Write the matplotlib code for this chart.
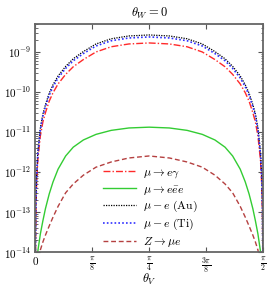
import numpy as np
import matplotlib
matplotlib.use("Agg")
import matplotlib.pyplot as plt
from matplotlib.ticker import FixedLocator, LogLocator, NullFormatter

plt.rcParams["mathtext.fontset"] = "cm"
plt.rcParams["font.family"] = "serif"

# angle grid (degrees), values are log10 of the rates
theta_deg = [0.05, 0.2, 0.5, 1, 2, 3, 4, 5.5, 7, 9, 12, 15, 19, 24, 30, 37, 45,
             53, 60, 66, 71, 75, 78, 81, 83, 84.5, 86, 87, 88, 89, 89.5, 89.8, 89.95]

log_mu_egamma = [-14.3, -13.1, -12.3, -11.7, -11.1, -10.75, -10.52, -10.23, -10.02, -9.8,
                 -9.56, -9.37, -9.19, -9.0, -8.87, -8.8, -8.775,
                 -8.8, -8.87, -9.0, -9.19, -9.37, -9.56, -9.8, -10.02, -10.23, -10.52,
                 -10.75, -11.1, -11.7, -12.3, -13.1, -14.3]
log_mu_eee = [-16.5, -15.6, -14.55, -13.98, -13.55, -13.22, -12.92, -12.55, -12.25, -11.93,
              -11.6, -11.38, -11.2, -11.06, -10.96, -10.9, -10.88,
              -10.9, -10.96, -11.06, -11.2, -11.38, -11.6, -11.93, -12.25, -12.55, -12.92,
              -13.22, -13.55, -13.98, -14.55, -15.6, -16.5]
log_mu_e_au = [-14.1, -12.9, -12.1, -11.5, -10.9, -10.55, -10.32, -10.03, -9.82, -9.6,
               -9.36, -9.17, -8.99, -8.8, -8.67, -8.6, -8.575,
               -8.6, -8.67, -8.8, -8.99, -9.17, -9.36, -9.6, -9.82, -10.03, -10.32,
               -10.55, -10.9, -11.5, -12.1, -12.9, -14.1]
log_mu_e_ti = [-14.15, -12.95, -12.15, -11.55, -10.95, -10.6, -10.37, -10.08, -9.87, -9.65,
               -9.41, -9.22, -9.04, -8.85, -8.72, -8.65, -8.625,
               -8.65, -8.72, -8.85, -9.04, -9.22, -9.41, -9.65, -9.87, -10.08, -10.37,
               -10.6, -10.95, -11.55, -12.15, -12.95, -14.15]
log_z_mue = [-16.0, -15.3, -14.75, -14.3, -13.95, -13.75, -13.58, -13.35, -13.13, -12.86,
             -12.52, -12.3, -12.08, -11.88, -11.75, -11.65, -11.6,
             -11.65, -11.75, -11.88, -12.08, -12.3, -12.52, -12.86, -13.13, -13.35, -13.58,
             -13.75, -13.95, -14.3, -14.75, -15.3, -16.0]

x_ticks = [0, np.pi / 8, np.pi / 4, 3 * np.pi / 8, np.pi / 2]
x_ticklabels = [r"$0$", r"$\frac{\pi}{8}$", r"$\frac{\pi}{4}$", r"$\frac{3\pi}{8}$", r"$\frac{\pi}{2}$"]
y_exps = [-14, -13, -12, -11, -10, -9]

theta = np.radians(theta_deg)

fig = plt.figure(figsize=(2.68, 2.87), dpi=100)
ax = fig.add_axes([0.1317, 0.122, 0.8496, 0.7944])

ax.plot(theta, 10.0 ** np.array(log_mu_egamma), color="#ff2a2a", lw=1.0,
        dashes=(5, 1.5, 1, 1.5), label=r"$\mu \to e\gamma$")
ax.plot(theta, 10.0 ** np.array(log_mu_eee), color="#33cc33", lw=1.0,
        label=r"$\mu \to e\bar{e}e$")
ax.plot(theta, 10.0 ** np.array(log_mu_e_au), color="black", lw=0.9,
        dashes=(1, 1), label=r"$\mu - e\ (\mathrm{Au})$")
ax.plot(theta, 10.0 ** np.array(log_mu_e_ti), color="#3030ff", lw=1.2,
        dashes=(1, 1.3), label=r"$\mu - e\ (\mathrm{Ti})$")
ax.plot(theta, 10.0 ** np.array(log_z_mue), color="#b54040", lw=1.0,
        dashes=(3.5, 2), label=r"$Z \to \mu e$")

ax.set_yscale("log")
ax.set_xlim(0, np.pi / 2)
ax.set_ylim(1e-14, 5e-9)

ax.set_xticks(x_ticks)
ax.set_xticklabels(x_ticklabels, fontsize=8)
ax.yaxis.set_major_locator(FixedLocator([10.0 ** e for e in y_exps]))
ax.set_yticklabels([r"$10^{%d}$" % e for e in y_exps], fontsize=8)
ax.yaxis.set_minor_locator(LogLocator(base=10, subs=np.arange(2, 10), numticks=20))
ax.yaxis.set_minor_formatter(NullFormatter())

ax.tick_params(which="both", direction="in", top=True, right=True, color="#555555")
ax.tick_params(which="major", length=3.5, width=0.8, pad=3)
ax.tick_params(axis="x", which="major", pad=2.5)
ax.tick_params(which="minor", length=1.8, width=0.6)
for s in ax.spines.values():
    s.set_color("#666666")
    s.set_linewidth(1.3)

ax.set_title(r"$\theta_W = 0$", fontsize=9, pad=5)
ax.set_xlabel(r"$\theta_V$", fontsize=9, va="center")
ax.xaxis.set_label_coords(0.5, -0.12)

ax.legend(loc="upper left", bbox_to_anchor=(0.27, 0.405), frameon=False, fontsize=8.5,
          handlelength=2.8, handletextpad=0.6, labelspacing=0.22, borderpad=0)

fig.savefig("out.png", dpi=100)
